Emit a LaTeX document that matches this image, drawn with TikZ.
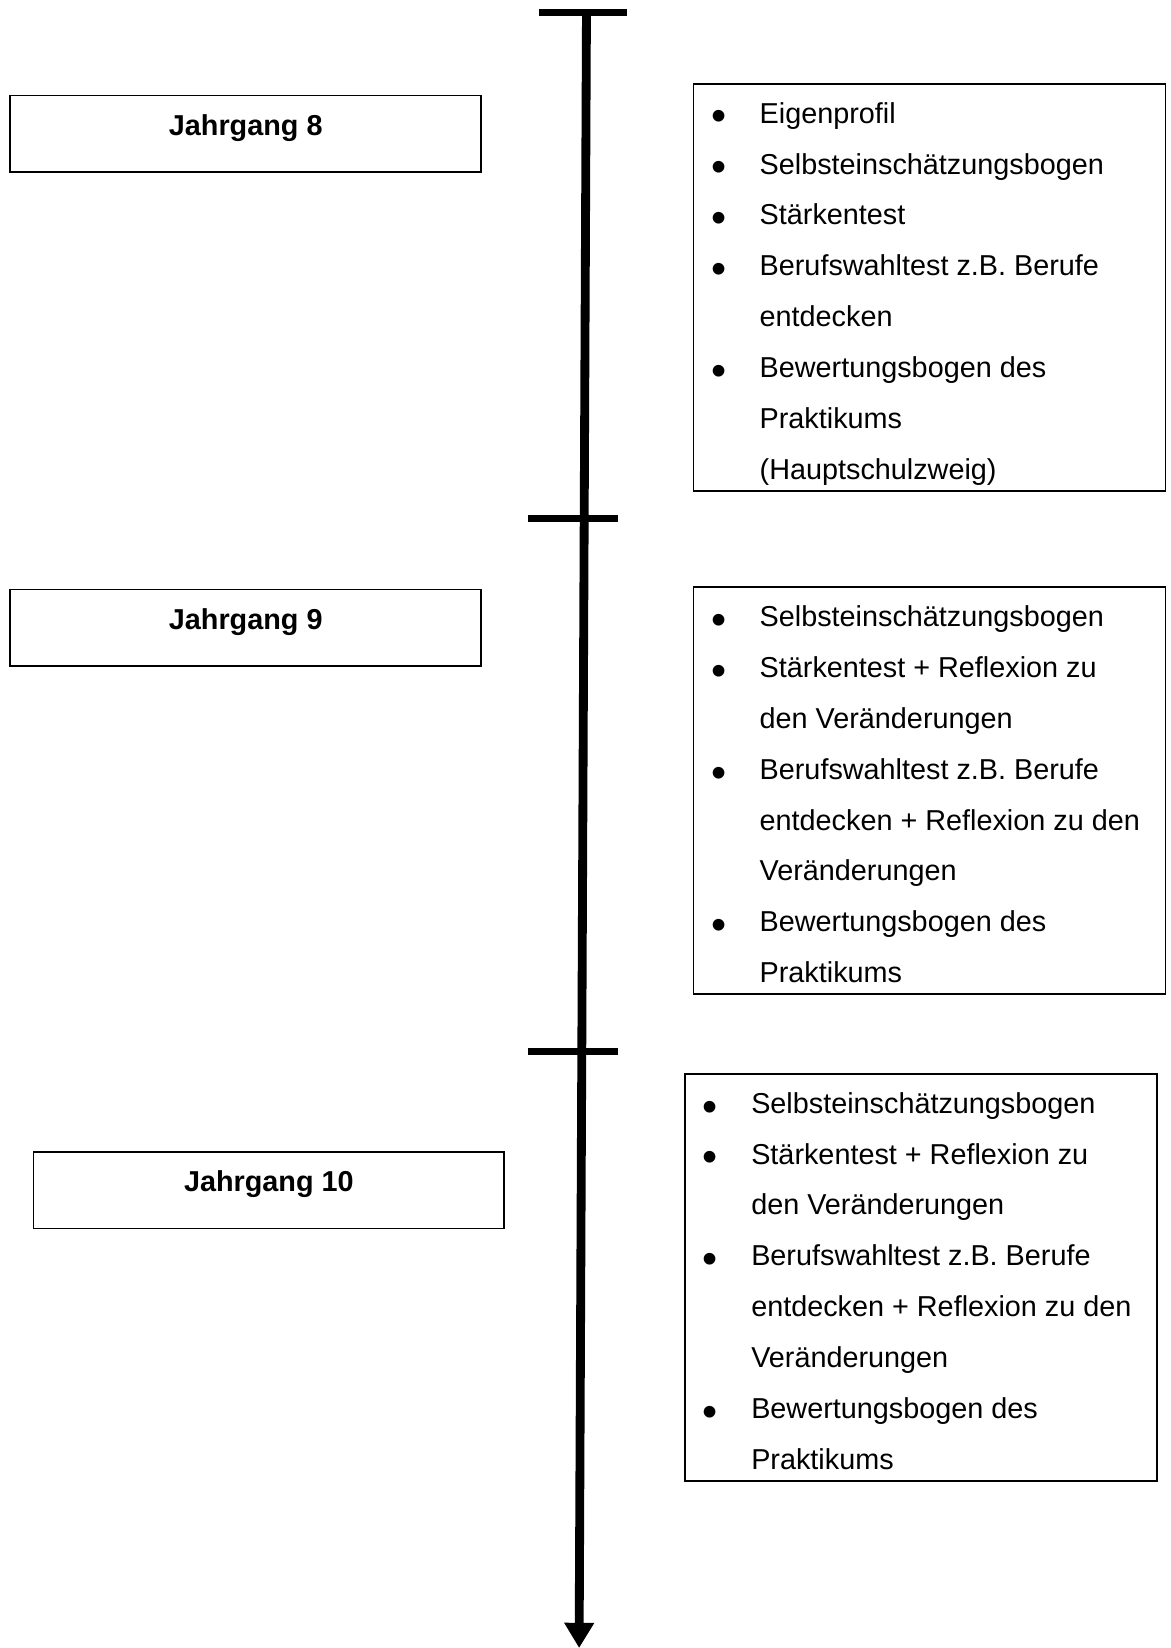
\documentclass[tikz,border=0pt]{standalone}
\usepackage{fontspec}
\setmainfont{Liberation Sans}
\usetikzlibrary{arrows.meta}

\newcommand{\bul}{\raisebox{-3.7pt}{\fontsize{20.5}{0}\selectfont\textbullet}}
\newcommand{\itemtab}[1]{\begin{tabular}{@{\hspace{8.5pt}}p{23pt}@{}p{193pt}@{}}%
    \rule{0pt}{18.7pt}\ignorespaces#1\\[-1.8pt]\end{tabular}}

\begin{document}
\begin{tikzpicture}[
        x=0.5pt, y=-0.5pt,
        font=\fontsize{13.7}{24.2}\selectfont,
        year/.style={draw, line width=0.8pt, inner sep=0pt, anchor=north west,
                     minimum width=224pt, text height=18.9pt, text depth=17.6pt,
                     font=\fontsize{13.7}{16}\selectfont\bfseries},
        itemsbox/.style={draw, line width=0.8pt, inner sep=0pt, anchor=north west},
        timeline/.style={line width=4.2pt},
        tickmark/.style={line width=3.3pt},
    ]

    \useasboundingbox (0,0) rectangle (1114,1568);

    % time axis
    \coordinate (top) at (558,12);
    \coordinate (tip) at (551,1568);
    \draw[timeline, -{Triangle[width=13.5pt, length=12pt]}] (top) -- (tip);

    \coordinate (k1a) at (513,12);   \coordinate (k1b) at (597,12);
    \coordinate (k2a) at (502,493);  \coordinate (k2b) at (588,493);
    \coordinate (k3a) at (502,1000); \coordinate (k3b) at (588,1000);
    \draw[tickmark] (k1a) -- (k1b);
    \draw[tickmark] (k2a) -- (k2b);
    \draw[tickmark] (k3a) -- (k3b);

    % years
    \node[year] (j8)  at (9,90)    {Jahrgang 8};
    \node[year] (j9)  at (9,560)   {Jahrgang 9};
    \node[year] (j10) at (31,1095) {Jahrgang 10};

    % lists
    \node[itemsbox] (l8) at (659,79) {\itemtab{
        \bul & Eigenprofil\\
        \bul & Selbsteinschätzungsbogen\\
        \bul & Stärkentest\\
        \bul & Berufswahltest z.B. Berufe\\
             & entdecken\\
        \bul & Bewertungsbogen des\\
             & Praktikums\\
             & (Hauptschulzweig)}};

    \node[itemsbox] (l9) at (659,558) {\itemtab{
        \bul & Selbsteinschätzungsbogen\\
        \bul & Stärkentest + Reflexion zu\\
             & den Veränderungen\\
        \bul & Berufswahltest z.B. Berufe\\
             & entdecken + Reflexion zu den\\
             & Veränderungen\\
        \bul & Bewertungsbogen des\\
             & Praktikums}};

    \node[itemsbox] (l10) at (651,1021) {\itemtab{
        \bul & Selbsteinschätzungsbogen\\
        \bul & Stärkentest + Reflexion zu\\
             & den Veränderungen\\
        \bul & Berufswahltest z.B. Berufe\\
             & entdecken + Reflexion zu den\\
             & Veränderungen\\
        \bul & Bewertungsbogen des\\
             & Praktikums}};

\end{tikzpicture}
\end{document}
